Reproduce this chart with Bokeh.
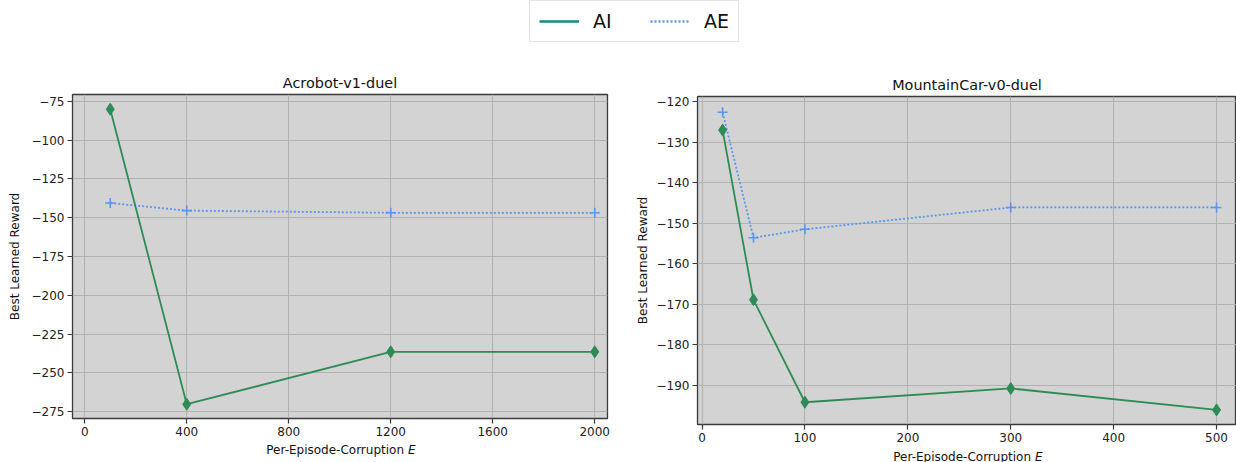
from bokeh.plotting import figure
from bokeh.layouts import column, row
from bokeh.models import Legend, LegendItem, FixedTicker, Range1d, CustomJSTickFormatter, Label
from bokeh.embed import file_html
from bokeh.resources import INLINE

# ---- data ----
acro_title = "Acrobot-v1-duel"
acro_x = [100, 400, 1200, 2000]
acro_ai = [-80.0, -270.3, -236.5, -236.5]
acro_ae = [-140.5, -145.4, -146.8, -146.8]
acro_xticks = [0, 400, 800, 1200, 1600, 2000]
acro_yticks = [-275, -250, -225, -200, -175, -150, -125, -100, -75]

mc_title = "MountainCar-v0-duel"
mc_x = [20, 50, 100, 300, 500]
mc_ai = [-127.0, -168.9, -194.2, -190.8, -196.1]
mc_ae = [-122.6, -153.6, -151.5, -146.1, -146.1]
mc_xticks = [0, 100, 200, 300, 400, 500]
mc_yticks = [-190, -180, -170, -160, -150, -140, -130, -120]

series_labels = ["AI", "AE"]
x_label_main = "Per-Episode-Corruption"
x_label_var = "E"
y_label = "Best Learned Reward"

FONT = "DejaVu Sans"
GREEN = "#2e8b57"
BLUE = "#5b96ee"
TEAL = "#108a80"
SPINE = "#3a3a3a"


def panel(title, xs, ai, ae, xticks, yticks, xr, yr, width, height,
          bl, bt, bb, br, ylab_standoff):
    p = figure(width=width, height=height, toolbar_location=None, output_backend="svg",
               x_range=Range1d(*xr), y_range=Range1d(*yr),
               min_border_left=bl, min_border_top=bt, min_border_bottom=bb, min_border_right=br,
               background_fill_color="#d3d3d3", border_fill_color="white")
    p.title.text = title
    p.title.text_font = FONT
    p.title.text_font_size = "14.4px"
    p.title.text_font_style = "normal"
    p.title.text_color = "#111111"
    p.title.align = "center"
    p.title.standoff = 8
    p.outline_line_color = SPINE
    p.outline_line_width = 1.3
    p.grid.grid_line_color = "#b2b2b2"
    p.grid.grid_line_width = 1.1
    p.xaxis.ticker = FixedTicker(ticks=xticks)
    p.yaxis.ticker = FixedTicker(ticks=yticks)
    p.yaxis.formatter = CustomJSTickFormatter(
        code="return (tick < 0 ? '\\u2212' : '') + Math.abs(tick).toString();")
    for ax in (p.xaxis[0], p.yaxis[0]):
        ax.axis_line_color = None
        ax.major_tick_line_color = SPINE
        ax.major_tick_line_width = 1.2
        ax.major_tick_out = 5
        ax.major_tick_in = 0
        ax.minor_tick_line_color = None
        ax.major_label_text_font = FONT
        ax.major_label_text_font_size = "12px"
        ax.major_label_text_color = "#222222"
        ax.major_label_standoff = 3
        ax.axis_label_text_font = FONT
        ax.axis_label_text_font_size = "12px"
        ax.axis_label_text_font_style = "normal"
        ax.axis_label_text_color = "#111111"
    p.yaxis.axis_label = y_label
    p.yaxis.axis_label_standoff = ylab_standoff

    p.line(xs, ae, line_color=BLUE, line_width=1.8, line_dash="2 2")
    p.scatter(xs, ae, marker="cross", size=10, line_color=BLUE, line_width=1.6)
    p.line(xs, ai, line_color=GREEN, line_width=1.8)
    p.scatter(xs, ai, marker="diamond", size=12, fill_color=GREEN, line_color=GREEN)
    return p


def xtitle_strip(width, height, xr, text_y):
    # strip below a panel holding the x-axis title (variable in italics);
    # its frame is aligned with the panel's frame, so it shares the x range
    s = figure(width=width, height=height, toolbar_location=None, output_backend="svg",
               x_range=Range1d(*xr), y_range=Range1d(0, height),
               x_axis_type=None, y_axis_type=None, min_border=0)
    s.outline_line_color = None
    mid = (xr[0] + xr[1]) / 2.0
    s.add_layout(Label(x=mid, y=text_y, x_offset=64, text=x_label_main,
                       text_align="right", text_baseline="middle",
                       text_font=FONT, text_font_size="12px", text_color="#111111"))
    s.add_layout(Label(x=mid, y=text_y, x_offset=68, text=x_label_var,
                       text_align="left", text_baseline="middle",
                       text_font=FONT, text_font_size="12px", text_font_style="italic",
                       text_color="#111111"))
    return s


acro_xr = (-48, 2050)
mc_xr = (-4.4, 519.4)

p1 = panel(acro_title, acro_x, acro_ai, acro_ae, acro_xticks, acro_yticks,
           acro_xr, (-279.5, -70.5), 632, 376, 72, 26, 26, 25, 7)
s1 = xtitle_strip(632, 18, acro_xr, 13)

p2 = panel(mc_title, mc_x, mc_ai, mc_ae, mc_xticks, mc_yticks,
           mc_xr, (-199.7, -118.7), 604, 382, 65, 28, 26, 0, 4)
s2 = xtitle_strip(604, 12, mc_xr, 6)

# ---- legend strip ----
lf = figure(width=1236, height=68, toolbar_location=None, output_backend="svg",
            x_range=Range1d(0, 1), y_range=Range1d(0, 1),
            x_axis_type=None, y_axis_type=None, min_border=0)
lf.outline_line_color = None
lf.grid.visible = False
r1 = lf.line(x=[5, 6], y=[5, 6], line_color=TEAL, line_width=2.6)
r2 = lf.line(x=[5, 6], y=[5, 6], line_color=BLUE, line_width=2.6, line_dash="2 2")
leg = Legend(items=[LegendItem(label=series_labels[0], renderers=[r1]),
                    LegendItem(label=series_labels[1], renderers=[r2])],
             orientation="horizontal", location=(529, 26))
leg.label_text_font = FONT
leg.label_text_font_size = "19px"
leg.label_text_color = "#111111"
leg.glyph_width = 40
leg.glyph_height = 16
leg.label_height = 16
leg.label_standoff = 14
leg.spacing = 37
leg.padding = 9
leg.margin = 0
leg.border_line_color = "#cccccc"
leg.border_line_width = 1.2
leg.background_fill_color = "white"
leg.background_fill_alpha = 1.0
lf.add_layout(leg, "center")

layout = column(lf, row(column(p1, s1), column(p2, s2)))

open("out.html", "w").write(file_html(layout, INLINE))
